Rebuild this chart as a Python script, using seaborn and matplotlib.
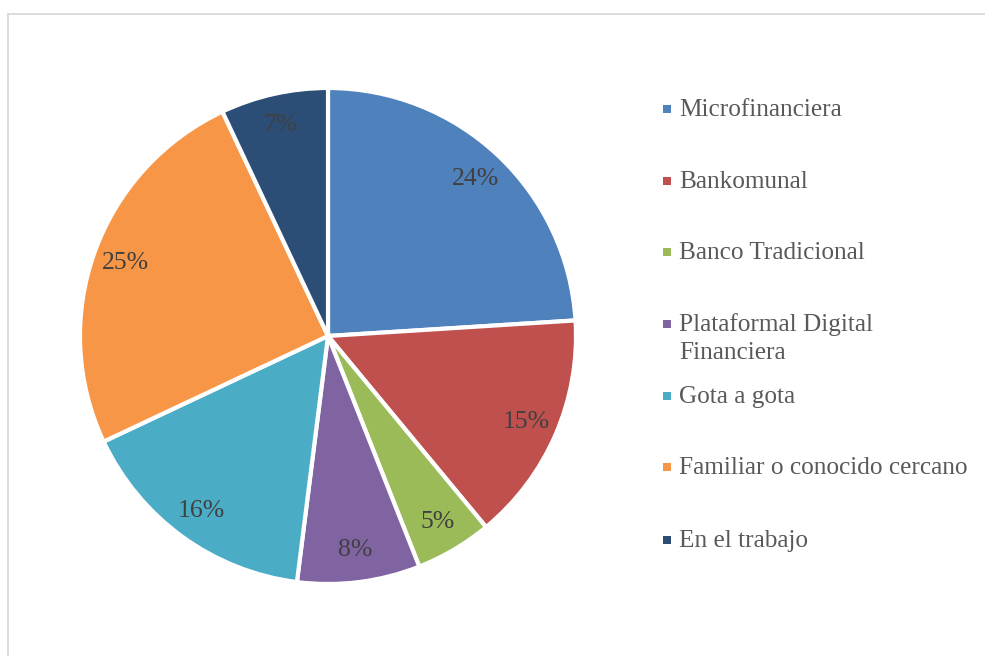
import matplotlib
matplotlib.use("Agg")
import matplotlib.pyplot as plt
from matplotlib.patches import Rectangle
from matplotlib.lines import Line2D
import seaborn as sns

# Source of credit and share of respondents (%)
categories = [
    "Microfinanciera",
    "Bankomunal",
    "Banco Tradicional",
    "Plataformal Digital\nFinanciera",
    "Gota a gota",
    "Familiar o conocido cercano",
    "En el trabajo",
]
shares = [24, 15, 5, 8, 16, 25, 7]
slice_colors = ["#4F81BD", "#C0504D", "#9BBB59", "#8064A2",
                "#4BACC6", "#F79646", "#2C4D75"]

sns.set_theme(style="white")
plt.rcParams["font.family"] = ["Liberation Serif", "DejaVu Serif"]

W, H = 985, 656
fig = plt.figure(figsize=(W / 100, H / 100), dpi=100)
fig.patch.set_facecolor("white")

# pie centred at (328, 336) px with radius 248 px
cx, cy, r = 328, 336, 248
ax = fig.add_axes([(cx - r) / W, (H - cy - r) / H, 2 * r / W, 2 * r / H])
palette = sns.color_palette(slice_colors)
wedges, texts, autotexts = ax.pie(
    shares,
    colors=palette,
    startangle=90,
    counterclock=False,
    autopct=lambda p: f"{p:.0f}%",
    pctdistance=0.87,
    wedgeprops=dict(edgecolor="white", linewidth=3),
    textprops=dict(fontsize=18.5, color="#404040"),
)
ax.set_xlim(-1, 1)
ax.set_ylim(-1, 1)
ax.set_aspect("equal")
ax.axis("off")

# legend entries: square marker plus label, wrapped labels continue below
legend_y = [109, 181, 252, 324, 396, 467, 540]
line_step = 28
for label, col, y in zip(categories, palette, legend_y):
    s = 8
    fig.add_artist(Rectangle(((667 - s / 2) / W, 1 - (y + s / 2) / H),
                             s / W, s / H, transform=fig.transFigure,
                             facecolor=col, edgecolor="none"))
    for i, line in enumerate(label.split("\n")):
        fig.text(679 / W, 1 - (y + 7 + i * line_step) / H, line,
                 fontsize=18.2, color="#595959", ha="left", va="baseline")

# chart area border (top and left edges)
border = "#D9D9D9"
fig.add_artist(Line2D([8 / W, 1.0], [1 - 14 / H, 1 - 14 / H],
                      transform=fig.transFigure, color=border, linewidth=1.3))
fig.add_artist(Line2D([8 / W, 8 / W], [0.0, 1 - 14 / H],
                      transform=fig.transFigure, color=border, linewidth=1.3))

fig.savefig("out.png", dpi=100, facecolor="white")
